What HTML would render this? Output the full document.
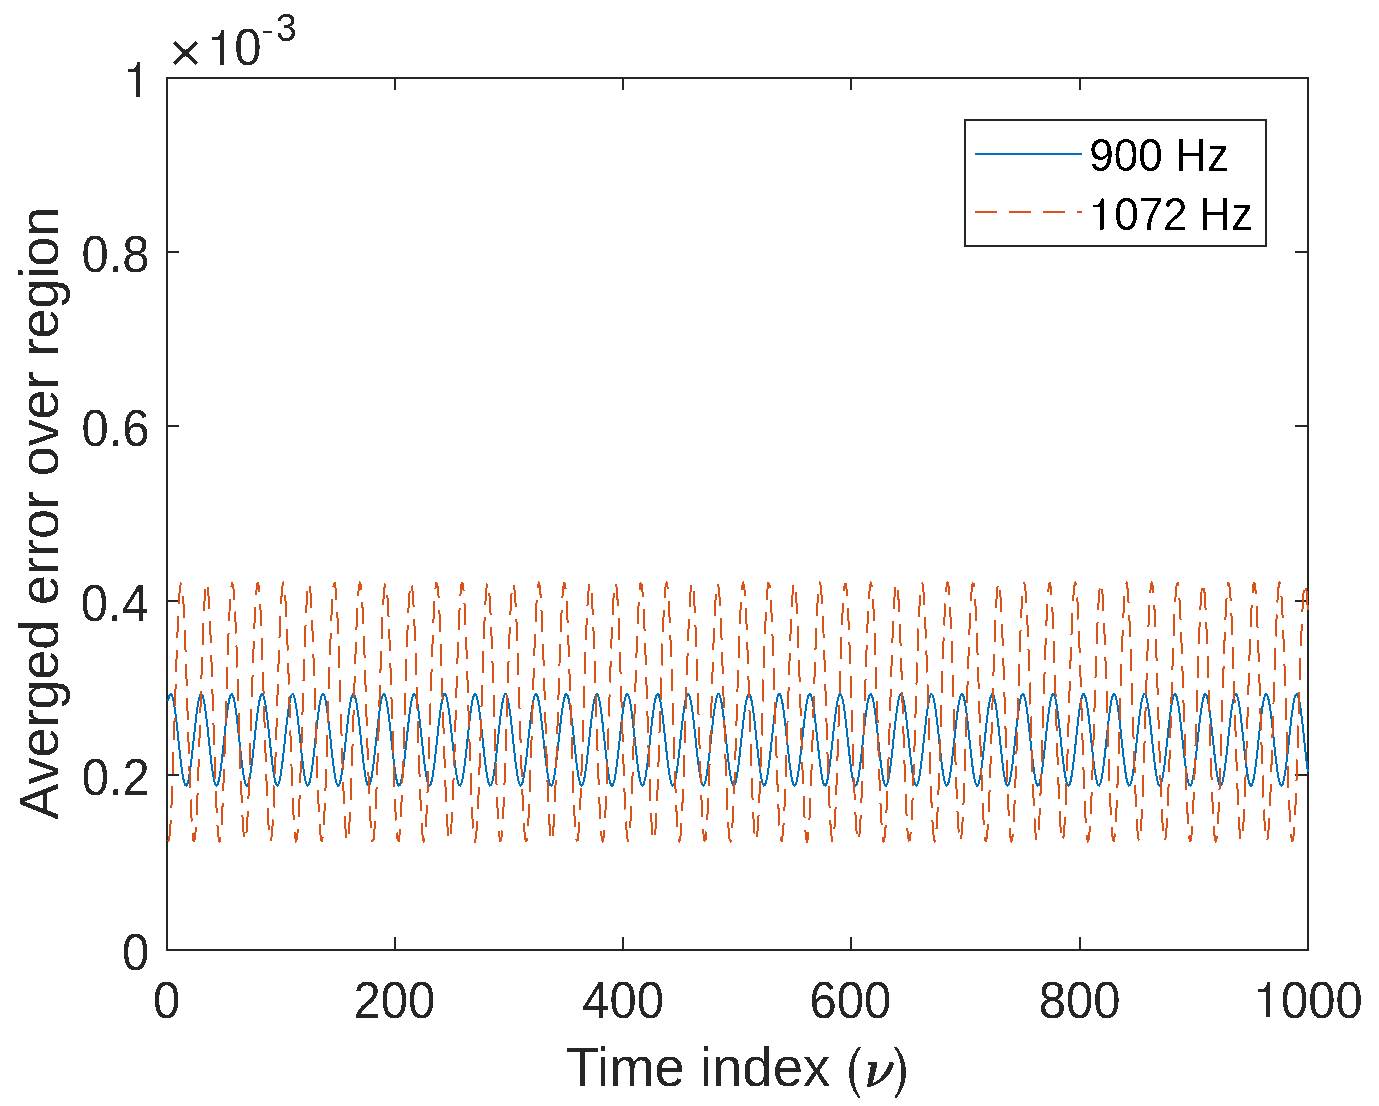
<!DOCTYPE html>
<html><head><meta charset="utf-8"><style>
html,body{margin:0;padding:0;background:#fff;}
body{width:1379px;height:1106px;overflow:hidden;}
svg{display:block;}
text{font-family:"Liberation Sans",sans-serif;}
</style></head><body>
<svg width="1379" height="1106" viewBox="0 0 1379 1106">
<defs><filter id="al" x="0" y="0" width="1379" height="1106" filterUnits="userSpaceOnUse"><feComponentTransfer><feFuncA type="discrete" tableValues="0 1"/></feComponentTransfer></filter></defs>
<rect x="0" y="0" width="1379" height="1106" fill="#fff"/>
<g fill="none" stroke="#262626" stroke-width="2" shape-rendering="crispEdges">
<path d="M167,950 V937 M167,78 V90 M395,950 V937 M395,78 V90 M623,950 V937 M623,78 V90 M851,950 V937 M851,78 V90 M1080,950 V937 M1080,78 V90 M1308,950 V937 M1308,78 V90 M167,950 H179 M1308,950 H1295 M167,775 H179 M1308,775 H1295 M167,601 H179 M1308,601 H1295 M167,426 H179 M1308,426 H1295 M167,252 H179 M1308,252 H1295 M167,78 H179 M1308,78 H1295"/>
</g>
<rect x="167" y="78" width="1141" height="872" fill="none" stroke="#262626" stroke-width="2" shape-rendering="crispEdges"/>
<g fill="none" stroke-width="2" stroke-linejoin="round" shape-rendering="crispEdges">
<path d="M168.14,700.76 L169.28,696.20 L170.42,694.05 L171.56,694.43 L172.71,697.32 L173.85,702.56 L174.99,709.87 L176.13,718.82 L177.27,728.94 L178.41,739.67 L179.55,750.40 L180.69,760.55 L181.83,769.56 L182.97,776.92 L184.12,782.23 L185.26,785.21 L186.40,785.67 L187.54,783.61 L188.68,779.12 L189.82,772.47 L190.96,764.01 L192.10,754.22 L193.24,743.63 L194.38,732.84 L195.53,722.43 L196.67,712.98 L197.81,705.02 L198.95,698.98 L200.09,695.21 L201.23,693.89 L202.37,695.12 L203.51,698.82 L204.65,704.79 L205.79,712.69 L206.94,722.10 L208.08,732.48 L209.22,743.27 L210.36,753.88 L211.50,763.71 L212.64,772.21 L213.78,778.94 L214.92,783.50 L216.06,785.65 L217.20,785.26 L218.34,782.37 L219.49,777.13 L220.63,769.83 L221.77,760.87 L222.91,750.75 L224.05,740.03 L225.19,729.30 L226.33,719.15 L227.47,710.14 L228.61,702.78 L229.75,697.46 L230.90,694.49 L232.04,694.02 L233.18,696.09 L234.32,700.57 L235.46,707.23 L236.60,715.68 L237.74,725.48 L238.88,736.06 L240.02,746.86 L241.17,757.27 L242.31,766.71 L243.45,774.67 L244.59,780.71 L245.73,784.49 L246.87,785.80 L248.01,784.57 L249.15,780.88 L250.29,774.91 L251.43,767.01 L252.57,757.60 L253.72,747.22 L254.86,736.42 L256.00,725.82 L257.14,715.99 L258.28,707.48 L259.42,700.76 L260.56,696.20 L261.70,694.05 L262.84,694.43 L263.99,697.32 L265.13,702.56 L266.27,709.87 L267.41,718.82 L268.55,728.94 L269.69,739.67 L270.83,750.40 L271.97,760.55 L273.11,769.56 L274.25,776.92 L275.39,782.23 L276.54,785.21 L277.68,785.67 L278.82,783.61 L279.96,779.12 L281.10,772.47 L282.24,764.01 L283.38,754.22 L284.52,743.63 L285.66,732.84 L286.81,722.43 L287.95,712.98 L289.09,705.02 L290.23,698.98 L291.37,695.21 L292.51,693.89 L293.65,695.12 L294.79,698.82 L295.93,704.79 L297.07,712.69 L298.22,722.10 L299.36,732.48 L300.50,743.27 L301.64,753.88 L302.78,763.71 L303.92,772.21 L305.06,778.94 L306.20,783.50 L307.34,785.65 L308.48,785.26 L309.62,782.37 L310.77,777.13 L311.91,769.83 L313.05,760.87 L314.19,750.75 L315.33,740.03 L316.47,729.30 L317.61,719.15 L318.75,710.14 L319.89,702.78 L321.03,697.46 L322.18,694.49 L323.32,694.02 L324.46,696.09 L325.60,700.57 L326.74,707.23 L327.88,715.68 L329.02,725.48 L330.16,736.06 L331.30,746.86 L332.44,757.27 L333.59,766.71 L334.73,774.67 L335.87,780.71 L337.01,784.49 L338.15,785.80 L339.29,784.57 L340.43,780.88 L341.57,774.91 L342.71,767.01 L343.86,757.60 L345.00,747.22 L346.14,736.42 L347.28,725.82 L348.42,715.99 L349.56,707.48 L350.70,700.76 L351.84,696.20 L352.98,694.05 L354.12,694.43 L355.26,697.32 L356.41,702.56 L357.55,709.87 L358.69,718.82 L359.83,728.94 L360.97,739.67 L362.11,750.40 L363.25,760.55 L364.39,769.56 L365.53,776.92 L366.68,782.23 L367.82,785.21 L368.96,785.67 L370.10,783.61 L371.24,779.12 L372.38,772.47 L373.52,764.01 L374.66,754.22 L375.80,743.63 L376.94,732.84 L378.09,722.43 L379.23,712.98 L380.37,705.02 L381.51,698.98 L382.65,695.21 L383.79,693.89 L384.93,695.12 L386.07,698.82 L387.21,704.79 L388.35,712.69 L389.50,722.10 L390.64,732.48 L391.78,743.27 L392.92,753.88 L394.06,763.71 L395.20,772.21 L396.34,778.94 L397.48,783.50 L398.62,785.65 L399.76,785.26 L400.90,782.37 L402.05,777.13 L403.19,769.83 L404.33,760.87 L405.47,750.75 L406.61,740.03 L407.75,729.30 L408.89,719.15 L410.03,710.14 L411.17,702.78 L412.31,697.46 L413.46,694.49 L414.60,694.02 L415.74,696.09 L416.88,700.57 L418.02,707.23 L419.16,715.68 L420.30,725.48 L421.44,736.06 L422.58,746.86 L423.73,757.27 L424.87,766.71 L426.01,774.67 L427.15,780.71 L428.29,784.49 L429.43,785.80 L430.57,784.57 L431.71,780.88 L432.85,774.91 L433.99,767.01 L435.13,757.60 L436.28,747.22 L437.42,736.42 L438.56,725.82 L439.70,715.99 L440.84,707.48 L441.98,700.76 L443.12,696.20 L444.26,694.05 L445.40,694.43 L446.55,697.32 L447.69,702.56 L448.83,709.87 L449.97,718.82 L451.11,728.94 L452.25,739.67 L453.39,750.40 L454.53,760.55 L455.67,769.56 L456.81,776.92 L457.95,782.23 L459.10,785.21 L460.24,785.67 L461.38,783.61 L462.52,779.12 L463.66,772.47 L464.80,764.01 L465.94,754.22 L467.08,743.63 L468.22,732.84 L469.37,722.43 L470.51,712.98 L471.65,705.02 L472.79,698.98 L473.93,695.21 L475.07,693.89 L476.21,695.12 L477.35,698.82 L478.49,704.79 L479.63,712.69 L480.77,722.10 L481.92,732.48 L483.06,743.27 L484.20,753.88 L485.34,763.71 L486.48,772.21 L487.62,778.94 L488.76,783.50 L489.90,785.65 L491.04,785.26 L492.19,782.37 L493.33,777.13 L494.47,769.83 L495.61,760.87 L496.75,750.75 L497.89,740.03 L499.03,729.30 L500.17,719.15 L501.31,710.14 L502.45,702.78 L503.60,697.46 L504.74,694.49 L505.88,694.02 L507.02,696.09 L508.16,700.57 L509.30,707.23 L510.44,715.68 L511.58,725.48 L512.72,736.06 L513.86,746.86 L515.00,757.27 L516.15,766.71 L517.29,774.67 L518.43,780.71 L519.57,784.49 L520.71,785.80 L521.85,784.57 L522.99,780.88 L524.13,774.91 L525.27,767.01 L526.41,757.60 L527.56,747.22 L528.70,736.42 L529.84,725.82 L530.98,715.99 L532.12,707.48 L533.26,700.76 L534.40,696.20 L535.54,694.05 L536.68,694.43 L537.83,697.32 L538.97,702.56 L540.11,709.87 L541.25,718.82 L542.39,728.94 L543.53,739.67 L544.67,750.40 L545.81,760.55 L546.95,769.56 L548.09,776.92 L549.24,782.23 L550.38,785.21 L551.52,785.67 L552.66,783.61 L553.80,779.12 L554.94,772.47 L556.08,764.01 L557.22,754.22 L558.36,743.63 L559.50,732.84 L560.64,722.43 L561.79,712.98 L562.93,705.02 L564.07,698.98 L565.21,695.21 L566.35,693.89 L567.49,695.12 L568.63,698.82 L569.77,704.79 L570.91,712.69 L572.06,722.10 L573.20,732.48 L574.34,743.27 L575.48,753.88 L576.62,763.71 L577.76,772.21 L578.90,778.94 L580.04,783.50 L581.18,785.65 L582.32,785.26 L583.47,782.37 L584.61,777.13 L585.75,769.83 L586.89,760.87 L588.03,750.75 L589.17,740.03 L590.31,729.30 L591.45,719.15 L592.59,710.14 L593.73,702.78 L594.88,697.46 L596.02,694.49 L597.16,694.02 L598.30,696.09 L599.44,700.57 L600.58,707.23 L601.72,715.68 L602.86,725.48 L604.00,736.06 L605.14,746.86 L606.29,757.27 L607.43,766.71 L608.57,774.67 L609.71,780.71 L610.85,784.49 L611.99,785.80 L613.13,784.57 L614.27,780.88 L615.41,774.91 L616.55,767.01 L617.69,757.60 L618.84,747.22 L619.98,736.42 L621.12,725.82 L622.26,715.99 L623.40,707.48 L624.54,700.76 L625.68,696.20 L626.82,694.05 L627.96,694.43 L629.11,697.32 L630.25,702.56 L631.39,709.87 L632.53,718.82 L633.67,728.94 L634.81,739.67 L635.95,750.40 L637.09,760.55 L638.23,769.56 L639.37,776.92 L640.51,782.23 L641.66,785.21 L642.80,785.67 L643.94,783.61 L645.08,779.12 L646.22,772.47 L647.36,764.01 L648.50,754.22 L649.64,743.63 L650.78,732.84 L651.92,722.43 L653.07,712.98 L654.21,705.02 L655.35,698.98 L656.49,695.21 L657.63,693.89 L658.77,695.12 L659.91,698.82 L661.05,704.79 L662.19,712.69 L663.34,722.10 L664.48,732.48 L665.62,743.27 L666.76,753.88 L667.90,763.71 L669.04,772.21 L670.18,778.94 L671.32,783.50 L672.46,785.65 L673.60,785.26 L674.75,782.37 L675.89,777.13 L677.03,769.83 L678.17,760.87 L679.31,750.75 L680.45,740.03 L681.59,729.30 L682.73,719.15 L683.87,710.14 L685.01,702.78 L686.15,697.46 L687.30,694.49 L688.44,694.02 L689.58,696.09 L690.72,700.57 L691.86,707.23 L693.00,715.68 L694.14,725.48 L695.28,736.06 L696.42,746.86 L697.57,757.27 L698.71,766.71 L699.85,774.67 L700.99,780.71 L702.13,784.49 L703.27,785.80 L704.41,784.57 L705.55,780.88 L706.69,774.91 L707.83,767.01 L708.98,757.60 L710.12,747.22 L711.26,736.42 L712.40,725.82 L713.54,715.99 L714.68,707.48 L715.82,700.76 L716.96,696.20 L718.10,694.05 L719.24,694.43 L720.38,697.32 L721.53,702.56 L722.67,709.87 L723.81,718.82 L724.95,728.94 L726.09,739.67 L727.23,750.40 L728.37,760.55 L729.51,769.56 L730.65,776.92 L731.79,782.23 L732.94,785.21 L734.08,785.67 L735.22,783.61 L736.36,779.12 L737.50,772.47 L738.64,764.01 L739.78,754.22 L740.92,743.63 L742.06,732.84 L743.21,722.43 L744.35,712.98 L745.49,705.02 L746.63,698.98 L747.77,695.21 L748.91,693.89 L750.05,695.12 L751.19,698.82 L752.33,704.79 L753.47,712.69 L754.62,722.10 L755.76,732.48 L756.90,743.27 L758.04,753.88 L759.18,763.71 L760.32,772.21 L761.46,778.94 L762.60,783.50 L763.74,785.65 L764.88,785.26 L766.02,782.37 L767.17,777.13 L768.31,769.83 L769.45,760.87 L770.59,750.75 L771.73,740.03 L772.87,729.30 L774.01,719.15 L775.15,710.14 L776.29,702.78 L777.44,697.46 L778.58,694.49 L779.72,694.02 L780.86,696.09 L782.00,700.57 L783.14,707.23 L784.28,715.68 L785.42,725.48 L786.56,736.06 L787.70,746.86 L788.85,757.27 L789.99,766.71 L791.13,774.67 L792.27,780.71 L793.41,784.49 L794.55,785.80 L795.69,784.57 L796.83,780.88 L797.97,774.91 L799.11,767.01 L800.25,757.60 L801.40,747.22 L802.54,736.42 L803.68,725.82 L804.82,715.99 L805.96,707.48 L807.10,700.76 L808.24,696.20 L809.38,694.05 L810.52,694.43 L811.66,697.32 L812.81,702.56 L813.95,709.87 L815.09,718.82 L816.23,728.94 L817.37,739.67 L818.51,750.40 L819.65,760.55 L820.79,769.56 L821.93,776.92 L823.08,782.23 L824.22,785.21 L825.36,785.67 L826.50,783.61 L827.64,779.12 L828.78,772.47 L829.92,764.01 L831.06,754.22 L832.20,743.63 L833.34,732.84 L834.49,722.43 L835.63,712.98 L836.77,705.02 L837.91,698.98 L839.05,695.21 L840.19,693.89 L841.33,695.12 L842.47,698.82 L843.61,704.79 L844.75,712.69 L845.89,722.10 L847.04,732.48 L848.18,743.27 L849.32,753.88 L850.46,763.71 L851.60,772.21 L852.74,778.94 L853.88,783.50 L855.02,785.65 L856.16,785.26 L857.31,782.37 L858.45,777.13 L859.59,769.83 L860.73,760.87 L861.87,750.75 L863.01,740.03 L864.15,729.30 L865.29,719.15 L866.43,710.14 L867.57,702.78 L868.72,697.46 L869.86,694.49 L871.00,694.02 L872.14,696.09 L873.28,700.57 L874.42,707.23 L875.56,715.68 L876.70,725.48 L877.84,736.06 L878.98,746.86 L880.12,757.27 L881.27,766.71 L882.41,774.67 L883.55,780.71 L884.69,784.49 L885.83,785.80 L886.97,784.57 L888.11,780.88 L889.25,774.91 L890.39,767.01 L891.53,757.60 L892.68,747.22 L893.82,736.42 L894.96,725.82 L896.10,715.99 L897.24,707.48 L898.38,700.76 L899.52,696.20 L900.66,694.05 L901.80,694.43 L902.95,697.32 L904.09,702.56 L905.23,709.87 L906.37,718.82 L907.51,728.94 L908.65,739.67 L909.79,750.40 L910.93,760.55 L912.07,769.56 L913.21,776.92 L914.36,782.23 L915.50,785.21 L916.64,785.67 L917.78,783.61 L918.92,779.12 L920.06,772.47 L921.20,764.01 L922.34,754.22 L923.48,743.63 L924.62,732.84 L925.76,722.43 L926.91,712.98 L928.05,705.02 L929.19,698.98 L930.33,695.21 L931.47,693.89 L932.61,695.12 L933.75,698.82 L934.89,704.79 L936.03,712.69 L937.17,722.10 L938.32,732.48 L939.46,743.27 L940.60,753.88 L941.74,763.71 L942.88,772.21 L944.02,778.94 L945.16,783.50 L946.30,785.65 L947.44,785.26 L948.59,782.37 L949.73,777.13 L950.87,769.83 L952.01,760.87 L953.15,750.75 L954.29,740.03 L955.43,729.30 L956.57,719.15 L957.71,710.14 L958.85,702.78 L960.00,697.46 L961.14,694.49 L962.28,694.02 L963.42,696.09 L964.56,700.57 L965.70,707.23 L966.84,715.68 L967.98,725.48 L969.12,736.06 L970.26,746.86 L971.40,757.27 L972.55,766.71 L973.69,774.67 L974.83,780.71 L975.97,784.49 L977.11,785.80 L978.25,784.57 L979.39,780.88 L980.53,774.91 L981.67,767.01 L982.82,757.60 L983.96,747.22 L985.10,736.42 L986.24,725.82 L987.38,715.99 L988.52,707.48 L989.66,700.76 L990.80,696.20 L991.94,694.05 L993.08,694.43 L994.23,697.32 L995.37,702.56 L996.51,709.87 L997.65,718.82 L998.79,728.94 L999.93,739.67 L1001.07,750.40 L1002.21,760.55 L1003.35,769.56 L1004.49,776.92 L1005.63,782.23 L1006.78,785.21 L1007.92,785.67 L1009.06,783.61 L1010.20,779.12 L1011.34,772.47 L1012.48,764.01 L1013.62,754.22 L1014.76,743.63 L1015.90,732.84 L1017.04,722.43 L1018.19,712.98 L1019.33,705.02 L1020.47,698.98 L1021.61,695.21 L1022.75,693.89 L1023.89,695.12 L1025.03,698.82 L1026.17,704.79 L1027.31,712.69 L1028.45,722.10 L1029.60,732.48 L1030.74,743.27 L1031.88,753.88 L1033.02,763.71 L1034.16,772.21 L1035.30,778.94 L1036.44,783.50 L1037.58,785.65 L1038.72,785.26 L1039.87,782.37 L1041.01,777.13 L1042.15,769.83 L1043.29,760.87 L1044.43,750.75 L1045.57,740.03 L1046.71,729.30 L1047.85,719.15 L1048.99,710.14 L1050.13,702.78 L1051.28,697.46 L1052.42,694.49 L1053.56,694.02 L1054.70,696.09 L1055.84,700.57 L1056.98,707.23 L1058.12,715.68 L1059.26,725.48 L1060.40,736.06 L1061.54,746.86 L1062.68,757.27 L1063.83,766.71 L1064.97,774.67 L1066.11,780.71 L1067.25,784.49 L1068.39,785.80 L1069.53,784.57 L1070.67,780.88 L1071.81,774.91 L1072.95,767.01 L1074.10,757.60 L1075.24,747.22 L1076.38,736.42 L1077.52,725.82 L1078.66,715.99 L1079.80,707.48 L1080.94,700.76 L1082.08,696.20 L1083.22,694.05 L1084.36,694.43 L1085.51,697.32 L1086.65,702.56 L1087.79,709.87 L1088.93,718.82 L1090.07,728.94 L1091.21,739.67 L1092.35,750.40 L1093.49,760.55 L1094.63,769.56 L1095.77,776.92 L1096.91,782.23 L1098.06,785.21 L1099.20,785.67 L1100.34,783.61 L1101.48,779.12 L1102.62,772.47 L1103.76,764.01 L1104.90,754.22 L1106.04,743.63 L1107.18,732.84 L1108.33,722.43 L1109.47,712.98 L1110.61,705.02 L1111.75,698.98 L1112.89,695.21 L1114.03,693.89 L1115.17,695.12 L1116.31,698.82 L1117.45,704.79 L1118.59,712.69 L1119.74,722.10 L1120.88,732.48 L1122.02,743.27 L1123.16,753.88 L1124.30,763.71 L1125.44,772.21 L1126.58,778.94 L1127.72,783.50 L1128.86,785.65 L1130.00,785.26 L1131.14,782.37 L1132.29,777.13 L1133.43,769.83 L1134.57,760.87 L1135.71,750.75 L1136.85,740.03 L1137.99,729.30 L1139.13,719.15 L1140.27,710.14 L1141.41,702.78 L1142.56,697.46 L1143.70,694.49 L1144.84,694.02 L1145.98,696.09 L1147.12,700.57 L1148.26,707.23 L1149.40,715.68 L1150.54,725.48 L1151.68,736.06 L1152.82,746.86 L1153.97,757.27 L1155.11,766.71 L1156.25,774.67 L1157.39,780.71 L1158.53,784.49 L1159.67,785.80 L1160.81,784.57 L1161.95,780.88 L1163.09,774.91 L1164.23,767.01 L1165.38,757.60 L1166.52,747.22 L1167.66,736.42 L1168.80,725.82 L1169.94,715.99 L1171.08,707.48 L1172.22,700.76 L1173.36,696.20 L1174.50,694.05 L1175.64,694.43 L1176.78,697.32 L1177.93,702.56 L1179.07,709.87 L1180.21,718.82 L1181.35,728.94 L1182.49,739.67 L1183.63,750.40 L1184.77,760.55 L1185.91,769.56 L1187.05,776.92 L1188.20,782.23 L1189.34,785.21 L1190.48,785.67 L1191.62,783.61 L1192.76,779.12 L1193.90,772.47 L1195.04,764.01 L1196.18,754.22 L1197.32,743.63 L1198.46,732.84 L1199.61,722.43 L1200.75,712.98 L1201.89,705.02 L1203.03,698.98 L1204.17,695.21 L1205.31,693.89 L1206.45,695.12 L1207.59,698.82 L1208.73,704.79 L1209.87,712.69 L1211.02,722.10 L1212.16,732.48 L1213.30,743.27 L1214.44,753.88 L1215.58,763.71 L1216.72,772.21 L1217.86,778.94 L1219.00,783.50 L1220.14,785.65 L1221.28,785.26 L1222.42,782.37 L1223.57,777.13 L1224.71,769.83 L1225.85,760.87 L1226.99,750.75 L1228.13,740.03 L1229.27,729.30 L1230.41,719.15 L1231.55,710.14 L1232.69,702.78 L1233.84,697.46 L1234.98,694.49 L1236.12,694.02 L1237.26,696.09 L1238.40,700.57 L1239.54,707.23 L1240.68,715.68 L1241.82,725.48 L1242.96,736.06 L1244.10,746.86 L1245.25,757.27 L1246.39,766.71 L1247.53,774.67 L1248.67,780.71 L1249.81,784.49 L1250.95,785.80 L1252.09,784.57 L1253.23,780.88 L1254.37,774.91 L1255.51,767.01 L1256.65,757.60 L1257.80,747.22 L1258.94,736.42 L1260.08,725.82 L1261.22,715.99 L1262.36,707.48 L1263.50,700.76 L1264.64,696.20 L1265.78,694.05 L1266.92,694.43 L1268.07,697.32 L1269.21,702.56 L1270.35,709.87 L1271.49,718.82 L1272.63,728.94 L1273.77,739.67 L1274.91,750.40 L1276.05,760.55 L1277.19,769.56 L1278.33,776.92 L1279.47,782.23 L1280.62,785.21 L1281.76,785.67 L1282.90,783.61 L1284.04,779.12 L1285.18,772.47 L1286.32,764.01 L1287.46,754.22 L1288.60,743.63 L1289.74,732.84 L1290.88,722.43 L1292.03,712.98 L1293.17,705.02 L1294.31,698.98 L1295.45,695.21 L1296.59,693.89 L1297.73,695.12 L1298.87,698.82 L1300.01,704.79 L1301.15,712.69 L1302.30,722.10 L1303.44,732.48 L1304.58,743.27 L1305.72,753.88 L1306.86,763.71 L1308.00,772.21" stroke="#0072BD"/>
<path d="M168.14,841.51 L169.28,838.77 L170.42,826.10 L171.56,804.51 L172.71,775.69 L173.85,741.88 L174.99,705.73 L176.13,670.08 L177.27,637.72 L178.41,611.16 L179.55,592.50 L180.69,583.20 L181.83,583.97 L182.97,594.76 L184.12,614.73 L185.26,642.32 L186.40,675.36 L187.54,711.26 L188.68,747.23 L189.82,780.45 L190.96,808.31 L192.10,828.63 L193.24,839.84 L194.38,841.04 L195.53,832.15 L196.67,813.86 L197.81,787.60 L198.95,755.43 L200.09,719.86 L201.23,683.68 L202.37,649.72 L203.51,620.63 L204.65,598.70 L205.79,585.63 L206.94,582.46 L208.08,589.42 L209.22,605.98 L210.36,630.84 L211.50,662.05 L212.64,697.17 L213.78,733.45 L214.92,768.06 L216.06,798.28 L217.20,821.76 L218.34,836.65 L219.49,841.78 L220.63,836.77 L221.77,821.99 L222.91,798.61 L224.05,768.46 L225.19,733.89 L226.33,697.61 L227.47,662.46 L228.61,631.18 L229.75,606.24 L230.90,589.57 L232.04,582.48 L233.18,585.53 L234.32,598.48 L235.46,620.32 L236.60,649.33 L237.74,683.24 L238.88,719.41 L240.02,755.01 L241.17,787.23 L242.31,813.58 L243.45,831.98 L244.59,840.99 L245.73,839.91 L246.87,828.83 L248.01,808.61 L249.15,780.83 L250.29,747.66 L251.43,711.71 L252.57,675.78 L253.72,642.69 L254.86,615.03 L256.00,594.95 L257.14,584.04 L258.28,583.14 L259.42,592.33 L260.56,610.88 L261.70,637.35 L262.84,669.66 L263.99,705.29 L265.13,741.44 L266.27,775.30 L267.41,804.20 L268.55,825.89 L269.69,838.67 L270.83,841.54 L271.97,834.28 L273.11,817.45 L274.25,792.38 L275.39,761.01 L276.54,725.82 L277.68,689.54 L278.82,655.03 L279.96,624.97 L281.10,601.73 L282.24,587.12 L283.38,582.28 L284.52,587.60 L285.66,602.65 L286.81,626.26 L287.95,656.58 L289.09,691.24 L290.23,727.53 L291.37,762.61 L292.51,793.73 L293.65,818.45 L294.79,834.85 L295.93,841.64 L297.07,838.28 L298.22,825.05 L299.36,802.97 L300.50,773.78 L301.64,739.76 L302.78,703.56 L303.92,668.03 L305.06,635.94 L306.20,609.81 L307.34,591.67 L308.48,582.96 L309.62,584.34 L310.77,595.71 L311.91,616.19 L313.05,644.16 L314.19,677.45 L315.33,713.44 L316.47,749.32 L317.61,782.28 L318.75,809.75 L319.89,829.57 L321.03,840.19 L322.18,840.79 L323.32,831.31 L324.46,812.49 L325.60,785.82 L326.74,753.37 L327.88,717.69 L329.02,681.56 L330.16,647.82 L331.30,619.10 L332.44,597.66 L333.59,585.16 L334.73,582.59 L335.87,590.15 L337.01,607.25 L338.15,632.54 L339.29,664.06 L340.43,699.33 L341.57,735.59 L342.71,770.01 L343.86,799.89 L345.00,822.90 L346.14,837.23 L347.28,841.77 L348.42,836.15 L349.56,820.83 L350.70,796.98 L351.84,766.49 L352.98,731.74 L354.12,695.45 L355.26,660.45 L356.41,629.49 L357.55,604.99 L358.69,588.87 L359.83,582.38 L360.97,586.03 L362.11,599.55 L363.25,621.87 L364.39,651.24 L365.53,685.37 L366.68,721.58 L367.82,757.05 L368.96,789.00 L370.10,814.92 L371.24,832.79 L372.38,841.21 L373.52,839.53 L374.66,827.87 L375.80,807.14 L376.94,778.97 L378.09,745.57 L379.23,709.54 L380.37,673.70 L381.51,640.87 L382.65,613.60 L383.79,594.03 L384.93,583.70 L386.07,583.41 L387.21,593.19 L388.35,612.26 L389.50,639.14 L390.64,671.72 L391.78,707.46 L392.92,743.56 L394.06,777.19 L395.20,805.72 L396.34,826.92 L397.48,839.13 L398.62,841.39 L399.76,833.53 L400.90,816.17 L402.05,790.66 L403.19,758.99 L404.33,723.65 L405.47,687.40 L406.61,653.08 L407.75,623.37 L408.89,600.60 L410.03,586.55 L411.17,582.31 L412.31,588.23 L413.46,603.83 L414.60,627.90 L415.74,658.56 L416.88,693.39 L418.02,729.69 L419.16,764.60 L420.30,795.40 L421.44,819.68 L422.58,835.53 L423.73,841.72 L424.87,837.76 L426.01,823.97 L427.15,801.41 L428.29,771.86 L429.43,737.63 L430.57,701.40 L431.71,665.99 L432.85,634.19 L433.99,608.49 L435.13,590.88 L436.28,582.75 L437.42,584.74 L438.56,596.69 L439.70,617.66 L440.84,646.02 L441.98,679.55 L443.12,715.61 L444.26,751.40 L445.40,784.10 L446.55,811.17 L447.69,830.48 L448.83,840.52 L449.97,840.50 L451.11,830.44 L452.25,811.10 L453.39,784.02 L454.53,751.30 L455.67,715.51 L456.81,679.45 L457.95,645.94 L459.10,617.60 L460.24,596.65 L461.38,584.72 L462.52,582.76 L463.66,590.91 L464.80,608.54 L465.94,634.27 L467.08,666.09 L468.22,701.49 L469.37,737.73 L470.51,771.95 L471.65,801.48 L472.79,824.02 L473.93,837.79 L475.07,841.72 L476.21,835.50 L477.35,819.63 L478.49,795.33 L479.63,764.51 L480.77,729.59 L481.92,693.30 L483.06,658.47 L484.20,627.83 L485.34,603.78 L486.48,588.20 L487.62,582.31 L488.76,586.57 L489.90,600.65 L491.04,623.44 L492.19,653.17 L493.33,687.50 L494.47,723.75 L495.61,759.08 L496.75,790.74 L497.89,816.23 L499.03,833.57 L500.17,841.40 L501.31,839.11 L502.45,826.87 L503.60,805.65 L504.74,777.10 L505.88,743.46 L507.02,707.36 L508.16,671.63 L509.30,639.06 L510.44,612.20 L511.58,593.15 L512.72,583.40 L513.86,583.72 L515.00,594.07 L516.15,613.66 L517.29,640.95 L518.43,673.80 L519.57,709.63 L520.71,745.66 L521.85,779.06 L522.99,807.21 L524.13,827.91 L525.27,839.55 L526.41,841.20 L527.56,832.75 L528.70,814.86 L529.84,788.92 L530.98,756.96 L532.12,721.49 L533.26,685.27 L534.40,651.15 L535.54,621.80 L536.68,599.50 L537.83,586.01 L538.97,582.38 L540.11,588.90 L541.25,605.05 L542.39,629.57 L543.53,660.54 L544.67,695.55 L545.81,731.84 L546.95,766.58 L548.09,797.06 L549.24,820.88 L550.38,836.18 L551.52,841.77 L552.66,837.21 L553.80,822.85 L554.94,799.82 L556.08,769.92 L557.22,735.50 L558.36,699.23 L559.50,663.97 L560.64,632.47 L561.79,607.19 L562.93,590.12 L564.07,582.58 L565.21,585.18 L566.35,597.70 L567.49,619.17 L568.63,647.90 L569.77,681.66 L570.91,717.79 L572.06,753.46 L573.20,785.90 L574.34,812.56 L575.48,831.35 L576.62,840.80 L577.76,840.18 L578.90,829.53 L580.04,809.69 L581.18,782.20 L582.32,749.23 L583.47,713.34 L584.61,677.35 L585.75,644.08 L586.89,616.12 L588.03,595.67 L589.17,584.32 L590.31,582.97 L591.45,591.71 L592.59,609.87 L593.73,636.02 L594.88,668.12 L596.02,703.66 L597.16,739.85 L598.30,773.87 L599.44,803.04 L600.58,825.10 L601.72,838.31 L602.86,841.63 L604.00,834.82 L605.14,818.39 L606.29,793.65 L607.43,762.52 L608.57,727.44 L609.71,691.15 L610.85,656.49 L611.99,626.19 L613.13,602.60 L614.27,587.57 L615.41,582.28 L616.55,587.14 L617.69,601.78 L618.84,625.04 L619.98,655.11 L621.12,689.64 L622.26,725.91 L623.40,761.10 L624.54,792.45 L625.68,817.51 L626.82,834.31 L627.96,841.55 L629.11,838.65 L630.25,825.84 L631.39,804.13 L632.53,775.21 L633.67,741.35 L634.81,705.19 L635.95,669.57 L637.09,637.27 L638.23,610.82 L639.37,592.29 L640.51,583.13 L641.66,584.06 L642.80,595.00 L643.94,615.09 L645.08,642.78 L646.22,675.88 L647.36,711.81 L648.50,747.76 L649.64,780.91 L650.78,808.67 L651.92,828.87 L653.07,839.93 L654.21,840.98 L655.35,831.94 L656.49,813.52 L657.63,787.16 L658.77,754.91 L659.91,719.32 L661.05,683.15 L662.19,649.24 L663.34,620.25 L664.48,598.43 L665.62,585.51 L666.76,582.49 L667.90,589.60 L669.04,606.29 L670.18,631.26 L671.32,662.55 L672.46,697.71 L673.60,733.99 L674.75,768.55 L675.89,798.69 L677.03,822.05 L678.17,836.80 L679.31,841.78 L680.45,836.62 L681.59,821.71 L682.73,798.21 L683.87,767.97 L685.01,733.35 L686.15,697.07 L687.30,661.96 L688.44,630.76 L689.58,605.92 L690.72,589.39 L691.86,582.45 L693.00,585.66 L694.14,598.75 L695.28,620.70 L696.42,649.80 L697.57,683.77 L698.71,719.96 L699.85,755.52 L700.99,787.68 L702.13,813.92 L703.27,832.18 L704.41,841.05 L705.55,839.82 L706.69,828.59 L707.83,808.24 L708.98,780.36 L710.12,747.14 L711.26,711.17 L712.40,675.26 L713.54,642.24 L714.68,614.67 L715.82,594.72 L716.96,583.95 L718.10,583.21 L719.24,592.54 L720.38,611.22 L721.53,637.80 L722.67,670.18 L723.81,705.83 L724.95,741.97 L726.09,775.77 L727.23,804.58 L728.37,826.15 L729.51,838.79 L730.65,841.51 L731.79,834.10 L732.94,817.13 L734.08,791.95 L735.22,760.51 L736.36,725.28 L737.50,689.01 L738.64,654.54 L739.78,624.57 L740.92,601.44 L742.06,586.97 L743.21,582.29 L744.35,587.75 L745.49,602.94 L746.63,626.67 L747.77,657.08 L748.91,691.78 L750.05,728.07 L751.19,763.11 L752.33,794.15 L753.47,818.76 L754.62,835.02 L755.76,841.66 L756.90,838.16 L758.04,824.78 L759.18,802.59 L760.32,773.30 L761.46,739.23 L762.60,703.02 L763.74,667.52 L764.88,635.50 L766.02,609.48 L767.17,591.47 L768.31,582.90 L769.45,584.43 L770.59,595.95 L771.73,616.55 L772.87,644.62 L774.01,677.97 L775.15,713.98 L776.29,749.84 L777.44,782.74 L778.58,810.11 L779.72,829.80 L780.86,840.28 L782.00,840.72 L783.14,831.09 L784.28,812.15 L785.42,785.37 L786.56,752.86 L787.70,717.14 L788.85,681.03 L789.99,647.35 L791.13,618.72 L792.27,597.40 L793.41,585.05 L794.55,582.63 L795.69,590.34 L796.83,607.57 L797.97,632.97 L799.11,664.56 L800.25,699.87 L801.40,736.13 L802.54,770.50 L803.68,800.29 L804.82,823.18 L805.96,837.38 L807.10,841.76 L808.24,835.99 L809.38,820.53 L810.52,796.57 L811.66,766.00 L812.81,731.21 L813.95,694.91 L815.09,659.96 L816.23,629.08 L817.37,604.69 L818.51,588.70 L819.65,582.36 L820.79,586.17 L821.93,599.82 L823.08,622.26 L824.22,651.72 L825.36,685.90 L826.50,722.12 L827.64,757.56 L828.78,789.43 L829.92,815.25 L831.06,832.99 L832.20,841.26 L833.34,839.43 L834.49,827.62 L835.63,806.77 L836.77,778.51 L837.91,745.04 L839.05,708.99 L840.19,673.18 L841.33,640.41 L842.47,613.25 L843.61,593.81 L844.75,583.62 L845.89,583.48 L847.04,593.40 L848.18,612.61 L849.32,639.59 L850.46,672.24 L851.60,708.00 L852.74,744.08 L853.88,777.65 L855.02,806.09 L856.16,827.17 L857.31,839.23 L858.45,841.35 L859.59,833.34 L860.73,815.85 L861.87,790.22 L863.01,758.49 L864.15,723.11 L865.29,686.87 L866.43,652.60 L867.57,622.98 L868.72,600.32 L869.86,586.41 L871.00,582.33 L872.14,588.39 L873.28,604.13 L874.42,628.32 L875.56,659.05 L876.70,693.93 L877.84,730.23 L878.98,765.10 L880.12,795.82 L881.27,819.98 L882.41,835.70 L883.55,841.74 L884.69,837.63 L885.83,823.69 L886.97,801.02 L888.11,771.38 L889.25,737.10 L890.39,700.85 L891.53,665.49 L892.68,633.76 L893.82,608.16 L894.96,590.68 L896.10,582.71 L897.24,584.85 L898.38,596.94 L899.52,618.04 L900.66,646.49 L901.80,680.07 L902.95,716.16 L904.09,751.92 L905.23,784.55 L906.37,811.52 L907.51,830.70 L908.65,840.59 L909.79,840.43 L910.93,830.21 L912.07,810.75 L913.21,783.57 L914.36,750.79 L915.50,714.97 L916.64,678.93 L917.78,645.47 L918.92,617.23 L920.06,596.40 L921.20,584.62 L922.34,582.81 L923.48,591.11 L924.62,608.87 L925.76,634.71 L926.91,666.59 L928.05,702.04 L929.19,738.26 L930.33,772.43 L931.47,801.87 L932.61,824.29 L933.75,837.92 L934.89,841.70 L936.03,835.33 L937.17,819.32 L938.32,794.91 L939.46,764.02 L940.60,729.05 L941.74,692.76 L942.88,657.97 L944.02,627.42 L945.16,603.48 L946.30,588.04 L947.44,582.30 L948.59,586.71 L949.73,600.93 L950.87,623.84 L952.01,653.65 L953.15,688.03 L954.29,724.29 L955.43,759.59 L956.57,791.17 L957.71,816.55 L958.85,833.76 L960.00,841.44 L961.14,839.00 L962.28,826.62 L963.42,805.27 L964.56,776.63 L965.70,742.93 L966.84,706.82 L967.98,671.11 L969.12,638.61 L970.26,611.85 L971.40,592.93 L972.55,583.33 L973.69,583.80 L974.83,594.30 L975.97,614.02 L977.11,641.40 L978.25,674.32 L979.39,710.18 L980.53,746.19 L981.67,779.52 L982.82,807.58 L983.96,828.15 L985.10,839.65 L986.24,841.15 L987.38,832.55 L988.52,814.53 L989.66,788.48 L990.80,756.45 L991.94,720.94 L993.08,684.74 L994.23,650.67 L995.37,621.41 L996.51,599.23 L997.65,585.88 L998.79,582.41 L999.93,589.07 L1001.07,605.36 L1002.21,629.99 L1003.35,661.04 L1004.49,696.09 L1005.63,732.38 L1006.78,767.08 L1007.92,797.47 L1009.06,821.17 L1010.20,836.34 L1011.34,841.78 L1012.48,837.06 L1013.62,822.57 L1014.76,799.42 L1015.90,769.44 L1017.04,734.96 L1018.19,698.69 L1019.33,663.46 L1020.47,632.04 L1021.61,606.87 L1022.75,589.93 L1023.89,582.55 L1025.03,585.30 L1026.17,597.96 L1027.31,619.55 L1028.45,648.38 L1029.60,682.18 L1030.74,718.33 L1031.88,753.98 L1033.02,786.35 L1034.16,812.90 L1035.30,831.56 L1036.44,840.87 L1037.58,840.09 L1038.72,829.30 L1039.87,809.33 L1041.01,781.74 L1042.15,748.71 L1043.29,712.80 L1044.43,676.83 L1045.57,643.62 L1046.71,615.75 L1047.85,595.43 L1048.99,584.22 L1050.13,583.02 L1051.28,591.91 L1052.42,610.21 L1053.56,636.46 L1054.70,668.64 L1055.84,704.20 L1056.98,740.38 L1058.12,774.35 L1059.26,803.43 L1060.40,825.36 L1061.54,838.43 L1062.68,841.60 L1063.83,834.64 L1064.97,818.08 L1066.11,793.23 L1067.25,762.02 L1068.39,726.90 L1069.53,690.61 L1070.67,656.00 L1071.81,625.78 L1072.95,602.31 L1074.10,587.42 L1075.24,582.28 L1076.38,587.29 L1077.52,602.07 L1078.66,625.45 L1079.80,655.60 L1080.94,690.17 L1082.08,726.45 L1083.22,761.61 L1084.36,792.88 L1085.51,817.83 L1086.65,834.49 L1087.79,841.58 L1088.93,838.53 L1090.07,825.58 L1091.21,803.75 L1092.35,774.74 L1093.49,740.82 L1094.63,704.65 L1095.77,669.06 L1096.91,636.83 L1098.06,610.48 L1099.20,592.08 L1100.34,583.07 L1101.48,584.15 L1102.62,595.23 L1103.76,615.46 L1104.90,643.24 L1106.04,676.40 L1107.18,712.35 L1108.33,748.28 L1109.47,781.37 L1110.61,809.03 L1111.75,829.11 L1112.89,840.02 L1114.03,840.92 L1115.17,831.73 L1116.31,813.18 L1117.45,786.71 L1118.59,754.40 L1119.74,718.77 L1120.88,682.62 L1122.02,648.77 L1123.16,619.86 L1124.30,598.17 L1125.44,585.39 L1126.58,582.52 L1127.72,589.78 L1128.86,606.61 L1130.00,631.69 L1131.14,663.05 L1132.29,698.25 L1133.43,734.52 L1134.57,769.04 L1135.71,799.09 L1136.85,822.33 L1137.99,836.94 L1139.13,841.78 L1140.27,836.47 L1141.41,821.41 L1142.56,797.80 L1143.70,767.48 L1144.84,732.82 L1145.98,696.53 L1147.12,661.45 L1148.26,630.34 L1149.40,605.61 L1150.54,589.21 L1151.68,582.43 L1152.82,585.78 L1153.97,599.01 L1155.11,621.09 L1156.25,650.28 L1157.39,684.30 L1158.53,720.50 L1159.67,756.03 L1160.81,788.12 L1161.95,814.25 L1163.09,832.39 L1164.23,841.11 L1165.38,839.73 L1166.52,828.35 L1167.66,807.88 L1168.80,779.90 L1169.94,746.62 L1171.08,710.62 L1172.22,674.74 L1173.36,641.78 L1174.50,614.31 L1175.64,594.49 L1176.78,583.87 L1177.93,583.27 L1179.07,592.75 L1180.21,611.57 L1181.35,638.24 L1182.49,670.69 L1183.63,706.38 L1184.77,742.50 L1185.91,776.24 L1187.05,804.96 L1188.20,826.41 L1189.34,838.90 L1190.48,841.47 L1191.62,833.91 L1192.76,816.82 L1193.90,791.52 L1195.04,760.00 L1196.18,724.73 L1197.32,688.47 L1198.46,654.05 L1199.61,624.17 L1200.75,601.16 L1201.89,586.83 L1203.03,582.29 L1204.17,587.91 L1205.31,603.24 L1206.45,627.08 L1207.59,657.57 L1208.73,692.32 L1209.87,728.61 L1211.02,763.61 L1212.16,794.57 L1213.30,819.07 L1214.44,835.20 L1215.58,841.68 L1216.72,838.03 L1217.86,824.51 L1219.00,802.20 L1220.14,772.82 L1221.28,738.69 L1222.42,702.48 L1223.57,667.01 L1224.71,635.07 L1225.85,609.14 L1226.99,591.27 L1228.13,582.85 L1229.27,584.53 L1230.41,596.20 L1231.55,616.92 L1232.69,645.09 L1233.84,678.50 L1234.98,714.53 L1236.12,750.36 L1237.26,783.20 L1238.40,810.46 L1239.54,830.03 L1240.68,840.36 L1241.82,840.65 L1242.96,830.88 L1244.10,811.80 L1245.25,784.92 L1246.39,752.34 L1247.53,716.60 L1248.67,680.51 L1249.81,646.88 L1250.95,618.35 L1252.09,597.15 L1253.23,584.94 L1254.37,582.67 L1255.51,590.53 L1256.65,607.89 L1257.80,633.40 L1258.94,665.07 L1260.08,700.41 L1261.22,736.66 L1262.36,770.98 L1263.50,800.69 L1264.64,823.46 L1265.78,837.52 L1266.92,841.75 L1268.07,835.83 L1269.21,820.23 L1270.35,796.16 L1271.49,765.51 L1272.63,730.67 L1273.77,694.37 L1274.91,659.46 L1276.05,628.66 L1277.19,604.38 L1278.33,588.53 L1279.47,582.34 L1280.62,586.30 L1281.76,600.10 L1282.90,622.65 L1284.04,652.20 L1285.18,686.43 L1286.32,722.67 L1287.46,758.07 L1288.60,789.87 L1289.74,815.58 L1290.88,833.18 L1292.03,841.31 L1293.17,839.32 L1294.31,827.37 L1295.45,806.40 L1296.59,778.04 L1297.73,744.52 L1298.87,708.45 L1300.01,672.66 L1301.15,639.96 L1302.30,612.89 L1303.44,593.59 L1304.58,583.55 L1305.72,583.56 L1306.86,593.63 L1308.00,612.96" stroke="#D95319" stroke-dasharray="22 12"/>
</g>
<g filter="url(#al)">
<g fill="#262626">
<text transform="translate(153.07,1017.80) scale(1,1.05)" font-size="49">0</text>
<text transform="translate(353.55,1017.80) scale(1,1.05)" font-size="49">200</text>
<text transform="translate(582.22,1017.80) scale(1,1.05)" font-size="49">400</text>
<text transform="translate(809.54,1017.80) scale(1,1.05)" font-size="49">600</text>
<text transform="translate(1038.72,1017.80) scale(1,1.05)" font-size="49">800</text>
<path transform="translate(1258.00,1016.90) scale(49.0)" d="M0.241,0 V-0.708 H0.186 C0.178,-0.625 0.145,-0.565 0.086,-0.565 H0 V-0.510 H0.163 V0 Z" fill="#262626"/>
<text transform="translate(1281.09,1017.80) scale(1,1.05)" font-size="49">000</text>
<text transform="translate(122.06,969.50) scale(1,1.05)" font-size="49">0</text>
<text transform="translate(81.75,794.50) scale(1,1.05)" font-size="49">0.2</text>
<text transform="translate(80.72,620.50) scale(1,1.05)" font-size="49">0.4</text>
<text transform="translate(81.44,445.50) scale(1,1.05)" font-size="49">0.6</text>
<text transform="translate(81.41,271.50) scale(1,1.05)" font-size="49">0.8</text>
<path transform="translate(128.00,96.80) scale(49)" d="M0.241,0 V-0.708 H0.186 C0.178,-0.625 0.145,-0.565 0.086,-0.565 H0 V-0.510 H0.163 V0 Z" fill="#262626"/>
<path d="M174.3,42.3 L196.7,63.6 M196.7,42.3 L174.3,63.6" stroke="#262626" stroke-width="3.7" fill="none"/>
<path transform="translate(212.00,65.00) scale(49)" d="M0.241,0 V-0.708 H0.186 C0.178,-0.625 0.145,-0.565 0.086,-0.565 H0 V-0.510 H0.163 V0 Z" fill="#262626"/>
<text transform="translate(234.19,65.00) scale(1,1.05)" font-size="49">0</text>
<rect x="263.1" y="30.9" width="8.9" height="2" fill="#262626"/>
<text transform="translate(275.88,41.40) scale(1,1.05)" font-size="37.2">3</text>
</g>
<text transform="translate(58,819.41) rotate(-90) scale(1,1.03)" font-size="53.85" fill="#262626">Averged error over region</text>
<text transform="translate(565.78,1085.80) scale(1,1.02)" font-size="54.5" fill="#262626">Time index</text><path d="M868,1062 L876.8,1062 L876.8,1066.4 L872.7,1082.9 C876,1081.5 880,1079 883.2,1074.2 C886,1070.5 888.5,1066.5 889.2,1062 L892.8,1062 L893.7,1063.5 L893.7,1064.5 C892.5,1069 890,1073.3 888,1075.5 C884,1080 878,1084.5 870.6,1086.8 L867,1086.8 L871,1064.6 L868,1064.6 Z" fill="#262626"/><path d="M858.4,1047 L861,1047.3 C857,1053.5 853.6,1060 853.6,1072.5 C853.6,1085 857,1091.5 860.7,1097.7 L858.4,1097.7 C853,1091 849.1,1083 849.1,1072.4 C849.1,1061.8 853,1053.5 858.4,1047 Z" fill="#262626"/><path d="M858.4,1047 L861,1047.3 C857,1053.5 853.6,1060 853.6,1072.5 C853.6,1085 857,1091.5 860.7,1097.7 L858.4,1097.7 C853,1091 849.1,1083 849.1,1072.4 C849.1,1061.8 853,1053.5 858.4,1047 Z" fill="#262626" transform="translate(1755,0) scale(-1,1)"/>
</g>
<rect x="965" y="120" width="301" height="126" fill="#fff" stroke="#262626" stroke-width="2" shape-rendering="crispEdges"/>
<path d="M975,154 H1082" stroke="#0072BD" stroke-width="2" shape-rendering="crispEdges"/>
<path d="M975,212 H1082" stroke="#D95319" stroke-width="2" stroke-dasharray="22 12" shape-rendering="crispEdges"/>
<g filter="url(#al)">
<text transform="translate(1089.24,170.90) scale(1,1.05)" font-size="44" fill="#000">900</text>
<text transform="translate(1175.29,170.90) scale(1,1.05)" font-size="44" fill="#000">Hz</text>
<path transform="translate(1092.90,229.70) scale(44)" d="M0.241,0 V-0.708 H0.186 C0.178,-0.625 0.145,-0.565 0.086,-0.565 H0 V-0.510 H0.163 V0 Z" fill="#000"/>
<text transform="translate(1114.18,229.70) scale(1,1.05)" font-size="44" fill="#000">072</text>
<text transform="translate(1199.19,229.70) scale(1,1.05)" font-size="44" fill="#000">Hz</text>
</g>
</svg>
</body></html>
